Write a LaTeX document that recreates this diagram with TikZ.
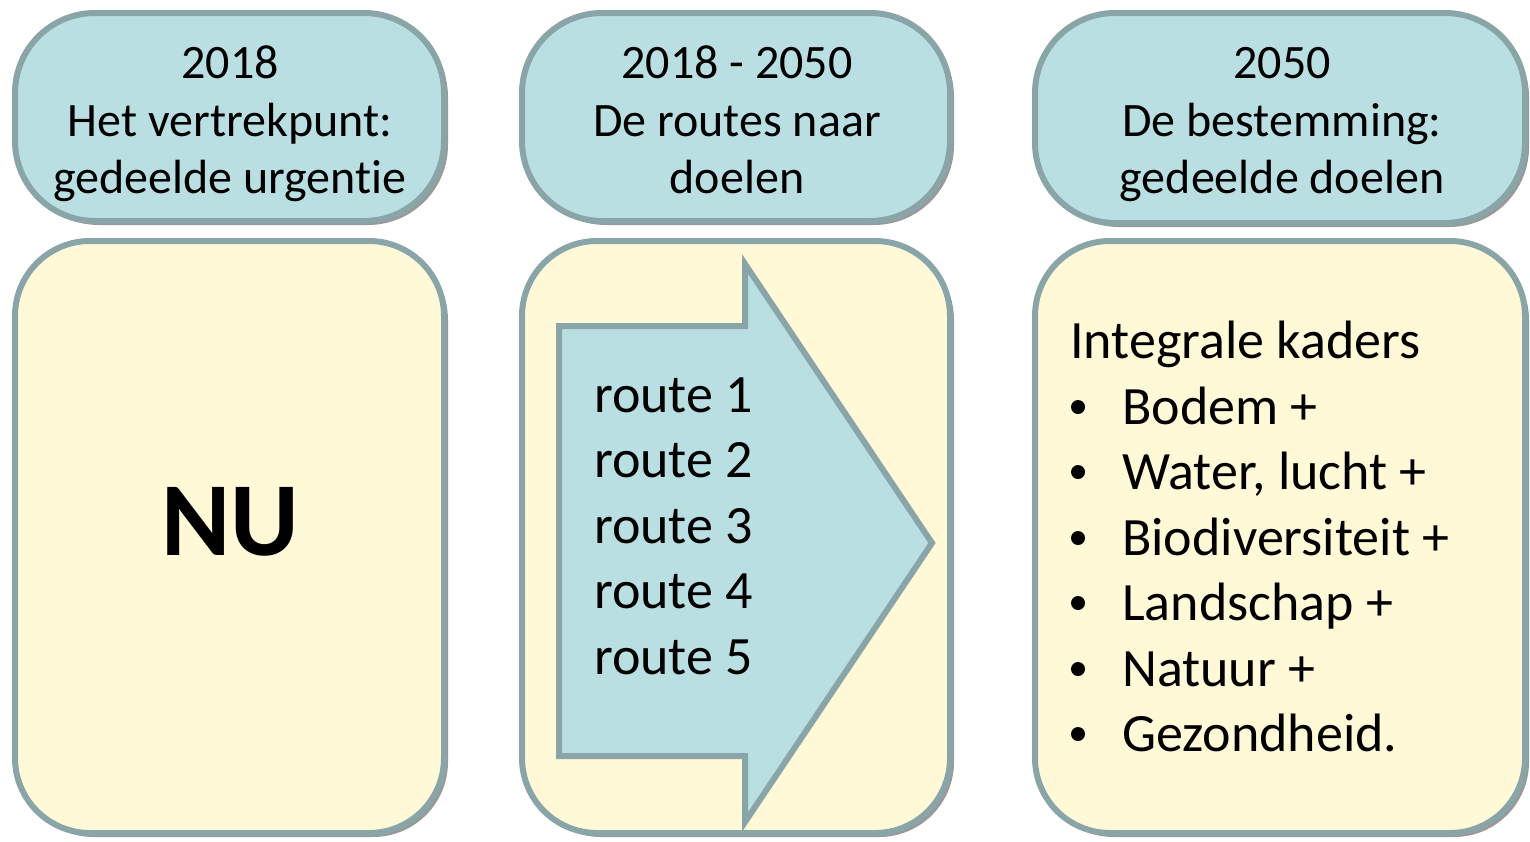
\documentclass[tikz,border=0pt]{standalone}
\usepackage{fontspec}
\setmainfont{Carlito}[Ligatures={NoCommon,NoContextual}]
\usetikzlibrary{shadows}
\definecolor{topfill}{HTML}{B9DFE3}
\definecolor{botfill}{HTML}{FFF9D8}
\definecolor{bord}{HTML}{8AA5A8}
\tikzset{
  box/.style={draw=bord, line width=6pt, rounded corners=80pt, inner sep=0pt,
    drop shadow={shadow xshift=4pt, shadow yshift=-4pt, opacity=0.4, fill=black}},
  topbox/.style={box, fill=topfill},
  botbox/.style={box, fill=botfill, rounded corners=75pt},
  htxt/.style={anchor=base, inner sep=0pt, font=\fontsize{48}{58}\selectfont},
  btxt/.style={anchor=base west, inner sep=0pt, font=\fontsize{54}{65}\selectfont},
  bul/.style={circle, fill=black, inner sep=0pt, minimum size=14pt},
}
\begin{document}
\begin{tikzpicture}[x=1pt,y=-1pt]
\useasboundingbox (0,0) rectangle (1530,841);
% top boxes
\node[topbox, minimum width=429pt, minimum height=208pt] (T1) at (229.5,117) {};
\node[topbox, minimum width=428pt, minimum height=208pt] (T2) at (736,117) {};
\node[topbox, minimum width=490pt, minimum height=210pt] (T3) at (1280,118) {};
% bottom boxes
\node[botbox, minimum width=429pt, minimum height=592pt] (B1) at (229.5,537) {};
\node[botbox, minimum width=428pt, minimum height=592pt] (B2) at (736,537) {};
\node[botbox, minimum width=490pt, minimum height=592pt] (B3) at (1280,537) {};
% top texts
\node[htxt] (t1a) at (230,78) {2018};
\node[htxt] (t1b) at (230,136) {Het vertrekpunt:};
\node[htxt] (t1c) at (230,193) {gedeelde urgen\kern0pt tie};
\node[htxt] (t2a) at (737,78) {2018 - 2050};
\node[htxt] (t2b) at (737,136) {De routes naar};
\node[htxt] (t2c) at (737,193) {doelen};
\node[htxt] (t3a) at (1282,78) {2050};
\node[htxt] (t3b) at (1282,136) {De bestemming:};
\node[htxt] (t3c) at (1282,193) {gedeelde doelen};
% NU
\node[anchor=base, inner sep=0pt, font=\fontsize{105}{110}\selectfont\bfseries] (nu) at (230,555) {NU};
% arrow
\draw[draw=bord, fill=topfill, line width=6pt, line join=miter]
  (559,326) -- (745,326) -- (745,264) -- (932,543) -- (745,822) -- (745,756) -- (559,756) -- cycle;
\node[btxt] (r1) at (594,412) {route 1};
\node[btxt] (r2) at (594,477) {route 2};
\node[btxt] (r3) at (594,543) {route 3};
\node[btxt] (r4) at (594,608) {route 4};
\node[btxt] (r5) at (594,674) {route 5};
% right list
\node[btxt] (ik) at (1070,358) {Integrale kaders};
\node[btxt] (l1) at (1122,424) {Bodem +};
\node[btxt] (l2) at (1122,489) {Water, lucht +};
\node[btxt] (l3) at (1122,555) {Biodiversiteit +};
\node[btxt] (l4) at (1122,620) {Landschap +};
\node[btxt] (l5) at (1122,686) {Natuur +};
\node[btxt] (l6) at (1122,751) {Gezondheid.};
\node[bul] (b1) at (1078,407) {};
\node[bul] (b2) at (1078,472) {};
\node[bul] (b3) at (1078,538) {};
\node[bul] (b4) at (1078,603) {};
\node[bul] (b5) at (1078,669) {};
\node[bul] (b6) at (1078,734) {};
\end{tikzpicture}
\end{document}
